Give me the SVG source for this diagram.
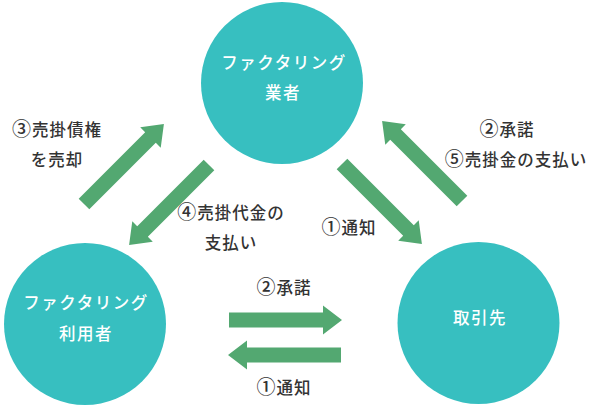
<svg xmlns="http://www.w3.org/2000/svg" width="593" height="411" viewBox="0 0 593 411">
<defs>
<style>
.node{fill:#37bfc0}
.nt{font-family:"Noto Sans CJK JP","Noto Sans",sans-serif;font-size:16.5px;font-weight:500;fill:#ffffff;text-anchor:middle;letter-spacing:1.5px}
.lb{font-family:"Noto Sans CJK JP","Noto Sans",sans-serif;font-size:16.5px;font-weight:500;fill:#333333;text-anchor:middle;letter-spacing:1px}
.cn{font-size:19px}
.arr{fill:#53a871}
</style>
<path id="arrow" d="M0,-7.5 L94,-7.5 L94,-14.5 L113,0 L94,14.5 L94,7.5 L0,7.5 Z"/>
</defs>
<rect width="593" height="411" fill="#ffffff"/>
<g id="connectors">
<use href="#arrow" class="arr" transform="translate(84,204) rotate(-45)"/>
<use href="#arrow" class="arr" transform="translate(209,165) rotate(135)"/>
<use href="#arrow" class="arr" transform="translate(342,164) rotate(45)"/>
<use href="#arrow" class="arr" transform="translate(462,201) rotate(-135)"/>
<use href="#arrow" class="arr" transform="translate(229,320)"/>
<use href="#arrow" class="arr" transform="translate(341,355) rotate(180)"/>
</g>
<g id="labels">
<text class="lb" x="57" y="136"><tspan class="cn">③</tspan>売掛債権</text>
<text class="lb" x="57" y="166">を売却</text>
<text class="lb" x="231" y="219"><tspan class="cn">④</tspan>売掛代金の</text>
<text class="lb" x="231" y="249">支払い</text>
<text class="lb" x="349" y="234"><tspan class="cn">①</tspan>通知</text>
<text class="lb" x="507" y="136"><tspan class="cn">②</tspan>承諾</text>
<text class="lb" x="516" y="166"><tspan class="cn">⑤</tspan>売掛金の支払い</text>
<text class="lb" x="284" y="294"><tspan class="cn">②</tspan>承諾</text>
<text class="lb" x="284" y="394"><tspan class="cn">①</tspan>通知</text>
</g>
<g id="node-factor">
<circle class="node" cx="282" cy="83" r="81"/>
<text class="nt" x="284" y="69">ファクタリング</text>
<text class="nt" x="283" y="99">業者</text>
</g>
<g id="node-user">
<circle class="node" cx="85" cy="324" r="81"/>
<text class="nt" x="86" y="309">ファクタリング</text>
<text class="nt" x="86" y="340">利用者</text>
</g>
<g id="node-client">
<circle class="node" cx="478.5" cy="323" r="81"/>
<text class="nt" x="480" y="324">取引先</text>
</g>
</svg>
